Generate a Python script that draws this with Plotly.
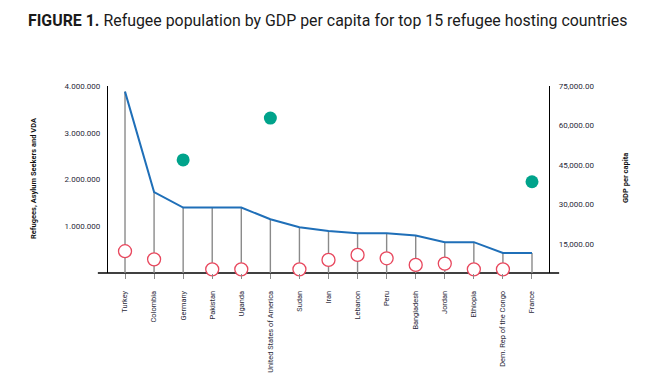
import plotly.graph_objects as go

countries = ["Turkey", "Colombia", "Germany", "Pakistan", "Uganda",
             "United States of America", "Sudan", "Iran", "Lebanon", "Peru",
             "Bangladesh", "Jordan", "Ethiopia", "Dem. Rep of the Congo", "France"]
refugees = [3880000, 1730000, 1400000, 1400000, 1400000, 1150000, 980000, 900000,
            850000, 850000, 800000, 660000, 660000, 430000, 430000]
gdp_low_countries = ["Turkey", "Colombia", "Pakistan", "Uganda", "Sudan", "Iran",
                     "Lebanon", "Peru", "Bangladesh", "Jordan", "Ethiopia",
                     "Dem. Rep of the Congo"]
gdp_low = [12200, 9100, 5300, 5300, 5300, 8900, 10800, 9500, 7000, 7500, 5300, 5300]
gdp_high_countries = ["Germany", "United States of America", "France"]
gdp_high = [46900, 62800, 38600]

left_ticks = [1000000, 2000000, 3000000, 4000000]
left_ticktext = ["1.000.000", "2.000.000", "3.000.000", "4.000.000"]
right_ticks = [15000, 30000, 45000, 60000, 75000]
right_ticktext = ["15,000.00", "30,000.00", "45,000.00", "60,000.00", "75,000.00"]

FONT = "Roboto"
TXT = "#2a2a3a"

# page body has an 8px margin; figure is sized so the page is exactly 671x381
W, H = 655, 365

fig = go.Figure()

# gray stems from 0 to refugee value
fig.add_trace(go.Scatter(
    x=countries, y=[0] * len(countries), mode="markers",
    marker=dict(size=1, opacity=0),
    error_y=dict(type="data", symmetric=False, array=refugees, arrayminus=[0] * len(refugees),
                 width=0, thickness=1.4, color="#8a8a8a"),
    hoverinfo="skip", showlegend=False, cliponaxis=False))

fig.add_trace(go.Scatter(
    x=countries, y=refugees, mode="lines",
    line=dict(color="#1f6fb8", width=2), showlegend=False, cliponaxis=False))

fig.add_trace(go.Scatter(
    x=gdp_low_countries, y=gdp_low, mode="markers", yaxis="y2",
    marker=dict(symbol="circle", size=13, color="white",
                line=dict(color="#e8475d", width=1.3)),
    showlegend=False, cliponaxis=False))

fig.add_trace(go.Scatter(
    x=gdp_high_countries, y=gdp_high, mode="markers", yaxis="y2",
    marker=dict(symbol="circle", size=13, color="#00a38b", line=dict(width=0)),
    showlegend=False, cliponaxis=False))

fig.update_layout(
    width=W, height=H,
    margin=dict(l=100, r=114, t=78, b=100, autoexpand=False),
    paper_bgcolor="white", plot_bgcolor="white",
    font=dict(family=FONT, color=TXT, size=8),
    title=dict(
        text="<b>FIGURE 1.</b> Refugee population by GDP per capita for top 15 refugee hosting countries",
        x=20 / W, xanchor="left", xref="container",
        y=1 - 12 / H, yanchor="middle", yref="container",
        font=dict(family=FONT, size=15.9, color="#1a1a1a")),
    xaxis=dict(
        type="category", categoryorder="array", categoryarray=countries,
        range=[-0.585, 14.585], showline=False, showgrid=False, zeroline=False,
        ticks="outside", ticklen=5, tickwidth=1.4, tickcolor="#8a8a8a",
        tickangle=-90, ticklabelstandoff=9, automargin=False,
        tickfont=dict(family=FONT, size=7.4, color=TXT)),
    yaxis=dict(
        range=[0, 4000000], tickvals=left_ticks, ticktext=left_ticktext,
        showline=True, linecolor="black", linewidth=1.3, showgrid=False, zeroline=False,
        ticks="", ticklabelstandoff=5, automargin=False,
        tickfont=dict(family=FONT, size=8, color=TXT)),
    yaxis2=dict(
        overlaying="y", side="right",
        range=[3917, 75000], tickvals=right_ticks, ticktext=right_ticktext,
        showline=True, linecolor="black", linewidth=1.3, showgrid=False, zeroline=False,
        ticks="", ticklabelstandoff=7, automargin=False,
        tickfont=dict(family=FONT, size=8, color=TXT)),
    shapes=[dict(type="line", xref="paper", yref="paper", x0=-0.023, x1=1.023, y0=0, y1=0,
                 line=dict(color="black", width=1.3), layer="below")],
    annotations=[
        dict(text="<b>Refugees, Asylum Seekers and VDA</b>", xref="paper", yref="paper",
             x=(33 - 108) / 441, y=(273 - 178) / 187, textangle=-90, showarrow=False,
             xanchor="center", yanchor="middle",
             font=dict(family=FONT, size=7.5, color="#111")),
        dict(text="<b>GDP per capita</b>", xref="paper", yref="paper",
             x=(625 - 108) / 441, y=(273 - 178) / 187, textangle=-90, showarrow=False,
             xanchor="center", yanchor="middle",
             font=dict(family=FONT, size=7.5, color="#111")),
    ],
)

fig.write_html("out.html")
